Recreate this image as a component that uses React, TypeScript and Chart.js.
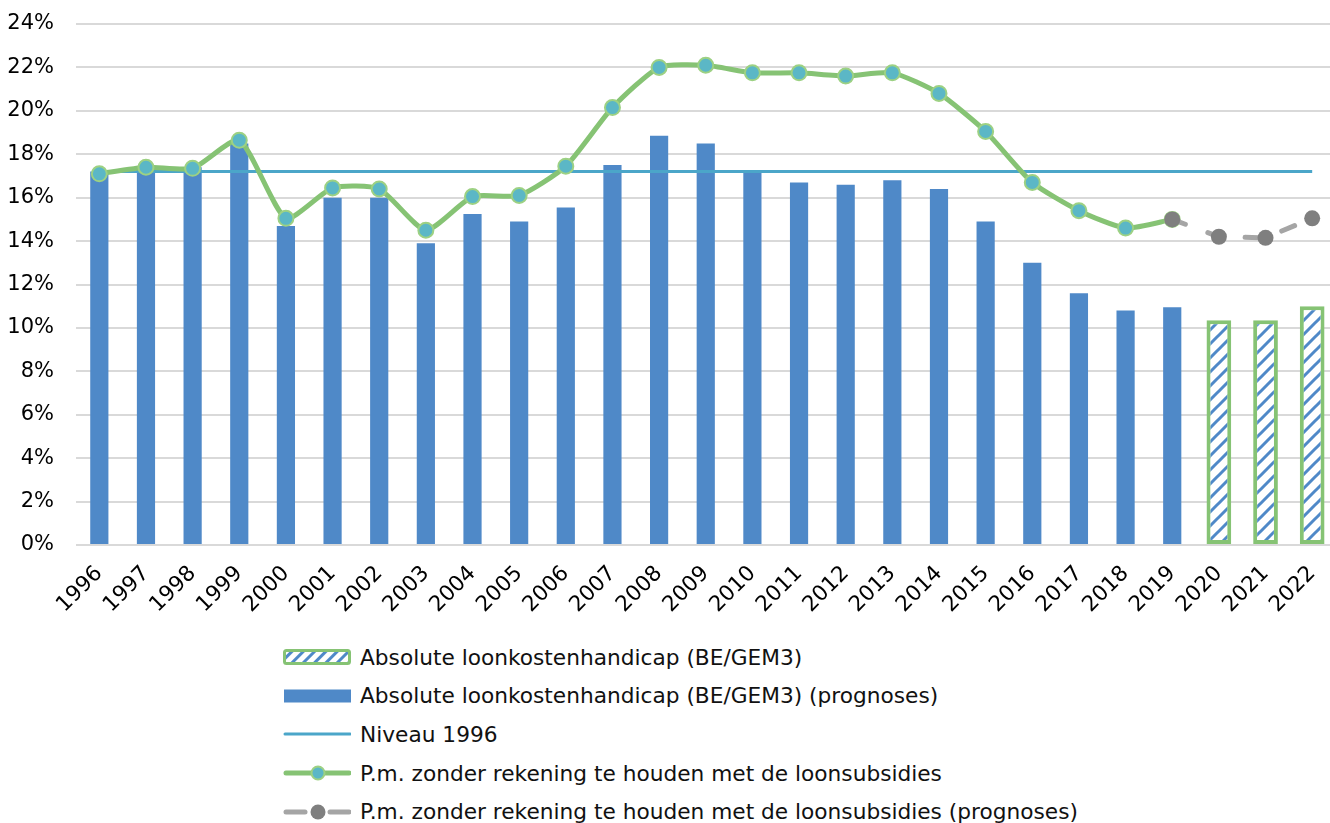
import React, { useEffect, useRef } from "react";
import { Chart, registerables } from "chart.js";

Chart.register(...registerables);

const years = ["1996","1997","1998","1999","2000","2001","2002","2003","2004","2005","2006","2007","2008","2009","2010","2011","2012","2013","2014","2015","2016","2017","2018","2019","2020","2021","2022"];

const handicapSolid = [17.2, 17.3, 17.4, 18.5, 14.7, 16.0, 16.0, 13.9, 15.25, 14.9, 15.55, 17.5, 18.85, 18.5, 17.25, 16.7, 16.6, 16.8, 16.4, 14.9, 13.0, 11.6, 10.8, 10.95, null, null, null];
const handicapHatched = [null, null, null, null, null, null, null, null, null, null, null, null, null, null, null, null, null, null, null, null, null, null, null, null, 10.35, 10.35, 11.0];
const niveau1996 = [17.2, 17.2, 17.2, 17.2, 17.2, 17.2, 17.2, 17.2, 17.2, 17.2, 17.2, 17.2, 17.2, 17.2, 17.2, 17.2, 17.2, 17.2, 17.2, 17.2, 17.2, 17.2, 17.2, 17.2, 17.2, 17.2, 17.2];
const withoutSubsidies = [17.1, 17.4, 17.35, 18.65, 15.05, 16.45, 16.4, 14.5, 16.05, 16.1, 17.45, 20.15, 22.0, 22.1, 21.75, 21.75, 21.6, 21.75, 20.8, 19.05, 16.7, 15.4, 14.6, 15.0, null, null, null];
const withoutSubsidiesForecast = [null, null, null, null, null, null, null, null, null, null, null, null, null, null, null, null, null, null, null, null, null, null, null, 15.0, 14.2, 14.15, 15.05];
const yTicks = [0, 2, 4, 6, 8, 10, 12, 14, 16, 18, 20, 22, 24];

const legendLabels = [
  "Absolute loonkostenhandicap (BE/GEM3)",
  "Absolute loonkostenhandicap (BE/GEM3) (prognoses)",
  "Niveau 1996",
  "P.m. zonder rekening te houden met de loonsubsidies",
  "P.m. zonder rekening te houden met de loonsubsidies (prognoses)",
];

const BLUE = "#4F89C8";
const AQUA = "#4BA6C9";
const GREEN = "#86C374";
const TEAL = "#5BB7C6";
const GRAY_LINE = "#A5A5A5";
const GRAY_DOT = "#7F7F7F";
const FONT = "'DejaVu Sans', sans-serif";

function makePattern(): CanvasPattern | string {
  const c = document.createElement("canvas");
  c.width = 14;
  c.height = 14;
  const g = c.getContext("2d");
  if (!g) return BLUE;
  g.fillStyle = "#ffffff";
  g.fillRect(0, 0, 14, 14);
  g.strokeStyle = BLUE;
  g.lineWidth = 3;
  g.beginPath();
  g.moveTo(-2, 16); g.lineTo(16, -2);
  g.moveTo(-9, 9); g.lineTo(9, -9);
  g.moveTo(5, 23); g.lineTo(23, 5);
  g.stroke();
  return g.createPattern(c, "repeat") || BLUE;
}

function Swatch({ kind }: { kind: number }) {
  if (kind === 0) {
    return (
      <svg width="68" height="20" style={{ display: "block" }}>
        <defs>
          <pattern id="hatch" width="8" height="8" patternUnits="userSpaceOnUse" patternTransform="rotate(45)">
            <rect width="8" height="8" fill="#fff" />
            <rect width="3" height="8" fill={BLUE} />
          </pattern>
        </defs>
        <rect x="1.5" y="3.5" width="65" height="13" rx="2" fill="url(#hatch)" stroke={GREEN} strokeWidth="3" />
      </svg>
    );
  }
  if (kind === 1) {
    return (
      <svg width="68" height="20" style={{ display: "block" }}>
        <rect x="1" y="3.5" width="68" height="13" fill={BLUE} />
      </svg>
    );
  }
  if (kind === 2) {
    return (
      <svg width="68" height="20" style={{ display: "block" }}>
        <line x1="2" y1="10" x2="67" y2="10" stroke={AQUA} strokeWidth="3" strokeLinecap="round" />
      </svg>
    );
  }
  if (kind === 3) {
    return (
      <svg width="68" height="20" style={{ display: "block" }}>
        <line x1="3" y1="10" x2="66" y2="10" stroke={GREEN} strokeWidth="5" strokeLinecap="round" />
        <circle cx="35" cy="10" r="6.5" fill={TEAL} stroke="#9DD183" strokeWidth="2" />
      </svg>
    );
  }
  return (
    <svg width="68" height="20" style={{ display: "block" }}>
      <line x1="3" y1="10" x2="22" y2="10" stroke={GRAY_LINE} strokeWidth="5" strokeLinecap="round" />
      <line x1="47" y1="10" x2="66" y2="10" stroke={GRAY_LINE} strokeWidth="5" strokeLinecap="round" />
      <circle cx="35" cy="10" r="7.5" fill={GRAY_DOT} />
    </svg>
  );
}

export default function App() {
  const ref = useRef<HTMLCanvasElement | null>(null);

  useEffect(() => {
    if (!ref.current) return;
    const pattern = makePattern();
    const chart = new Chart(ref.current, {
      type: "bar",
      data: {
        labels: years,
        datasets: [
          {
            type: "line",
            label: legendLabels[4],
            data: withoutSubsidiesForecast,
            borderColor: GRAY_LINE,
            borderWidth: 5,
            borderDash: [14, 24],
            borderCapStyle: "round",
            pointRadius: 8,
            pointBorderWidth: 0,
            pointBackgroundColor: GRAY_DOT,
            pointBorderColor: GRAY_DOT,
            tension: 0,
            order: 0,
          } as any,
          {
            type: "line",
            label: legendLabels[3],
            data: withoutSubsidies,
            borderColor: GREEN,
            borderWidth: 5,
            pointRadius: 7.5,
            pointBorderWidth: 2,
            pointBackgroundColor: TEAL,
            pointBorderColor: "#9DD183",
            tension: 0.2,
            order: 1,
          } as any,
          {
            type: "line",
            label: legendLabels[2],
            data: niveau1996,
            borderColor: AQUA,
            borderWidth: 3,
            pointRadius: 0,
            order: 2,
          } as any,
          {
            label: legendLabels[0],
            data: handicapHatched,
            backgroundColor: pattern as any,
            borderColor: GREEN,
            borderWidth: 4,
            borderSkipped: false,
            grouped: false,
            barPercentage: 0.53,
            categoryPercentage: 1,
            order: 3,
          } as any,
          {
            label: legendLabels[1],
            data: handicapSolid,
            backgroundColor: BLUE,
            borderWidth: 0,
            grouped: false,
            barPercentage: 0.39,
            categoryPercentage: 1,
            order: 4,
          } as any,
        ],
      },
      options: {
        responsive: false,
        animation: false,
        devicePixelRatio: 1,
        layout: { padding: { top: 24, right: 4, left: 0, bottom: 0 } },
        plugins: { legend: { display: false }, tooltip: { enabled: false } },
        scales: {
          x: {
            grid: { display: false },
            border: { display: false },
            ticks: {
              color: "#000",
              font: { family: FONT, size: 21.5 },
              minRotation: 45,
              maxRotation: 45,
              padding: 8,
              autoSkip: false,
            },
            afterFit: (s: any) => { s.height = 85; },
          },
          y: {
            min: 0,
            max: 24,
            afterBuildTicks: (s: any) => { s.ticks = yTicks.map((v) => ({ value: v })); },
            grid: { color: "#D9D9D9", lineWidth: 2, drawTicks: false },
            border: { display: false },
            ticks: {
              color: "#000",
              font: { family: FONT, size: 21 },
              padding: 22,
              callback: (v: any) => `${v}%`,
            },
            afterFit: (s: any) => { s.width = 76; s.paddingTop = 0; s.paddingBottom = 0; },
          },
        },
      },
    });
    return () => chart.destroy();
  }, []);

  return (
    <div style={{ position: "fixed", left: 0, top: 0, width: 1330, height: 823, overflow: "hidden", background: "#fff" }}>
      <canvas ref={ref} width={1345} height={630} style={{ position: "absolute", left: 0, top: 0, width: 1345, height: 630 }} />
      <div style={{ position: "absolute", left: 283, top: 638, fontFamily: FONT, fontSize: 21.7, color: "#111" }}>
        {legendLabels.map((t, i) => (
          <div key={i} style={{ display: "flex", alignItems: "center", height: 38.6, whiteSpace: "nowrap" }}>
            <Swatch kind={i} />
            <span style={{ marginLeft: 9 }}>{t}</span>
          </div>
        ))}
      </div>
    </div>
  );
}
